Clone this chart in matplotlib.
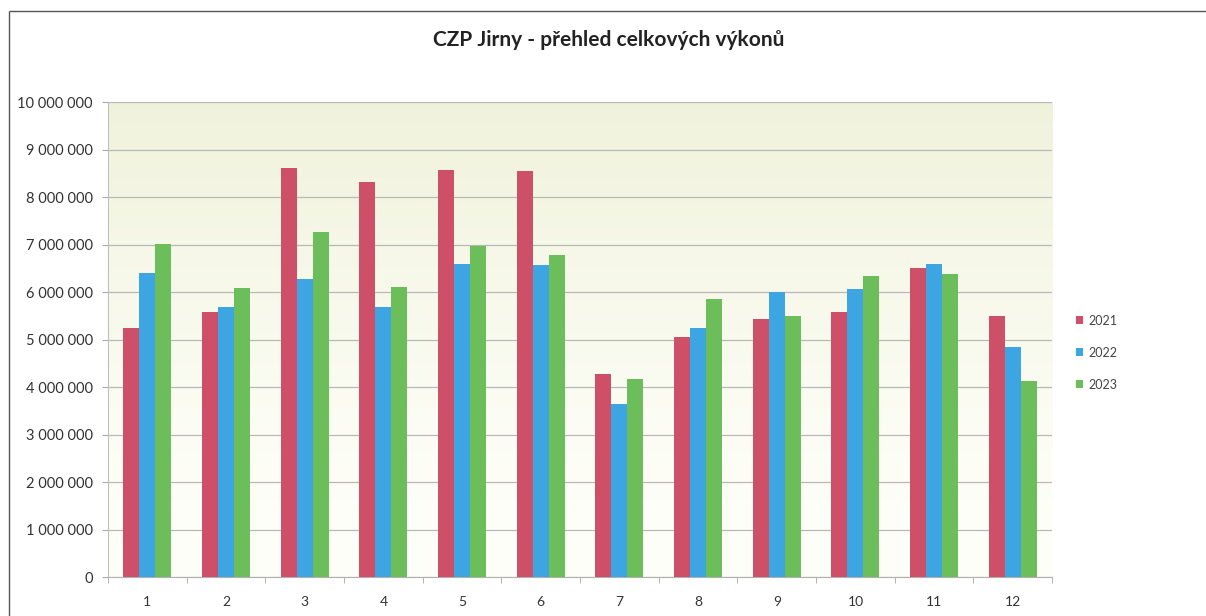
import numpy as np
import matplotlib.pyplot as plt
from matplotlib.lines import Line2D
from matplotlib.ticker import FuncFormatter, MultipleLocator

# Data (monthly totals)
months = ['1', '2', '3', '4', '5', '6', '7', '8', '9', '10', '11', '12']
years = ['2021', '2022', '2023']
v2021 = [5240000, 5590000, 8610000, 8310000, 8560000, 8540000,
         4270000, 5060000, 5440000, 5590000, 6500000, 5500000]
v2022 = [6400000, 5680000, 6280000, 5680000, 6590000, 6570000,
         3650000, 5240000, 6010000, 6060000, 6600000, 4840000]
v2023 = [7010000, 6090000, 7270000, 6110000, 6980000, 6770000,
         4170000, 5850000, 5500000, 6330000, 6390000, 4130000]
colors = ['#CD5068', '#3DA6E2', '#6CBE5A']

plt.rcParams['font.family'] = ['Lato', 'DejaVu Sans']

fig = plt.figure(figsize=(12.06, 6.16), dpi=100)
ax = fig.add_axes([0.0896, 0.0633, 0.7828, 0.771])

# outer chart border (only top and left edges are in the picture)
bx, by = 9 / 1206, 1 - 11 / 616
fig.add_artist(Line2D([bx, 1.05], [by, by], transform=fig.transFigure, color='#555555',
                      lw=1.0, solid_capstyle='butt'))
fig.add_artist(Line2D([bx, bx], [-0.05, by], transform=fig.transFigure, color='#555555',
                      lw=1.0, solid_capstyle='butt'))

# plot area background: pale yellow-green fading to white
grad = np.linspace(1, 0, 256).reshape(-1, 1) ** 1.4
top = np.array([0.94, 0.95, 0.86])
bot = np.array([1.0, 1.0, 0.98])
img = bot + (top - bot) * grad[..., None]
ax.imshow(img, extent=[0, 1, 0, 1], transform=ax.transAxes, aspect='auto', zorder=0)

x = np.arange(len(months))
w = 0.203
for i, (vals, c, lab) in enumerate(zip([v2021, v2022, v2023], colors, years)):
    ax.bar(x + (i - 1) * w, vals, width=w, color=c, label=lab, zorder=3)

ax.set_xlim(-0.5, len(months) - 0.5)
ax.set_ylim(0, 10000000)
ax.yaxis.set_major_locator(MultipleLocator(1000000))
ax.yaxis.set_major_formatter(FuncFormatter(lambda v, p: f'{int(v):,}'.replace(',', ' ')))
ax.set_xticks(x)
ax.set_xticklabels(months)
ax.set_xticks(np.arange(-0.5, len(months), 1), minor=True)
ax.tick_params(axis='x', which='major', length=0, pad=14, labelsize=10, labelcolor='#333333')
ax.tick_params(axis='x', which='minor', length=4, color='#aaaaaa')
ax.tick_params(axis='y', length=4, color='#aaaaaa', labelsize=10.5, labelcolor='#333333', pad=7)

ax.grid(axis='y', color='#b8b8b8', linewidth=0.9, zorder=1)
for s in ['top', 'right']:
    ax.spines[s].set_visible(False)
ax.spines['left'].set_color('#c0c0c0')
ax.spines['bottom'].set_color('#b0b0b0')

fig.text(0.505, 0.935, 'CZP Jirny - přehled celkových výkonů', ha='center', va='center',
         fontsize=15, fontweight='bold', color='#222222')

leg = ax.legend(loc='center left', bbox_to_anchor=(1.02, 0.4726), frameon=False,
                fontsize=9, handlelength=0.6, handleheight=0.6, labelspacing=1.6,
                handletextpad=0.4, borderaxespad=0)
for t in leg.get_texts():
    t.set_color('#444444')

fig.savefig('out.png', dpi=100)
